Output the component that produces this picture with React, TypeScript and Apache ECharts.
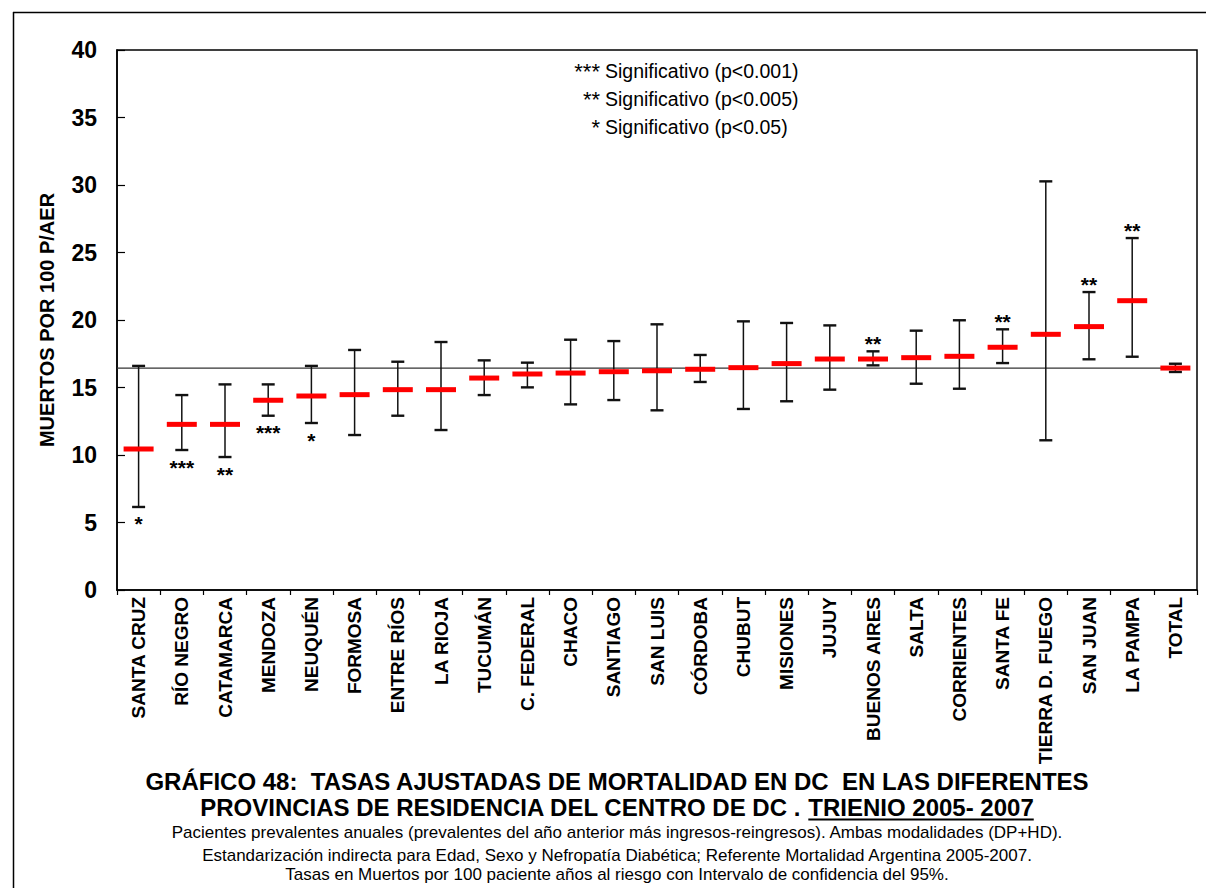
import React, { useEffect, useRef } from "react";
import * as echarts from "echarts";

const categories = [
  "SANTA CRUZ", "RÍO NEGRO", "CATAMARCA", "MENDOZA", "NEUQUÉN", "FORMOSA",
  "ENTRE RÍOS", "LA RIOJA", "TUCUMÁN", "C. FEDERAL", "CHACO", "SANTIAGO",
  "SAN LUIS", "CÓRDOBA", "CHUBUT", "MISIONES", "JUJUY", "BUENOS AIRES",
  "SALTA", "CORRIENTES", "SANTA FE", "TIERRA D. FUEGO", "SAN JUAN", "LA PAMPA", "TOTAL",
];
const rates = [
  10.44, 12.27, 12.27, 14.05, 14.37, 14.47, 14.84, 14.84, 15.7, 16.0, 16.07, 16.17,
  16.24, 16.35, 16.47, 16.77, 17.11, 17.11, 17.21, 17.31, 17.98, 18.94, 19.51, 21.43, 16.44,
];
const lower = [
  6.15, 10.37, 9.85, 12.91, 12.37, 11.48, 12.91, 11.85, 14.44, 15.01, 13.75, 14.07,
  13.31, 15.41, 13.41, 13.98, 14.84, 16.64, 15.28, 14.91, 16.81, 11.09, 17.09, 17.28, 16.15,
];
const upper = [
  16.6, 14.44, 15.23, 15.23, 16.6, 17.78, 16.91, 18.37, 17.01, 16.84, 18.54, 18.44,
  19.68, 17.41, 19.9, 19.78, 19.6, 17.68, 19.21, 19.98, 19.31, 30.27, 22.07, 26.07, 16.76,
];
const significance = [
  "*", "***", "**", "***", "*", "", "", "", "", "", "", "",
  "", "", "", "", "", "**", "", "", "**", "", "**", "**", "",
];
const referenceRate = 16.44;
const yTicks = { min: 0, max: 40, interval: 5 };

const legendStars = ["***", "**", "*"];
const legendTexts = ["Significativo (p<0.001)", "Significativo (p<0.005)", "Significativo (p<0.05)"];

const titleLine1 = "GRÁFICO 48:  TASAS AJUSTADAS DE MORTALIDAD EN DC  EN LAS DIFERENTES";
const titleLine2a = "PROVINCIAS DE RESIDENCIA DEL CENTRO DE DC . ";
const titleLine2b = "TRIENIO 2005- 2007";
const subtitleLines = [
  "Pacientes prevalentes anuales (prevalentes del año anterior más ingresos-reingresos). Ambas modalidades (DP+HD).",
  "Estandarización indirecta para Edad, Sexo y Nefropatía Diabética; Referente Mortalidad Argentina 2005-2007.",
  "Tasas en Muertos por 100 paciente años al riesgo con Intervalo de confidencia del 95%.",
];

const FONT = "'Liberation Sans', Arial, Helvetica, sans-serif";

function measure(text: string, font: string): number {
  const c = document.createElement("canvas");
  const ctx = c.getContext("2d");
  if (!ctx) return text.length * 12;
  ctx.font = font;
  return ctx.measureText(text).width;
}

export default function App() {
  const ref = useRef<HTMLDivElement>(null);

  useEffect(() => {
    if (!ref.current) return;
    const chart = echarts.init(ref.current, undefined, { renderer: "svg" });

    const titleFont = `bold 24px ${FONT}`;
    const w2a = measure(titleLine2a, titleFont);
    const w2b = measure(titleLine2b, titleFont);
    const centerX = 617;
    const x2 = centerX - (w2a + w2b) / 2;

    const errData = categories.map((c, i) => [i, lower[i], upper[i], rates[i]]);

    const option: any = {
      animation: false,
      backgroundColor: "#ffffff",
      grid: {
        left: 117,
        top: 50,
        right: 9,
        bottom: 298,
        show: true,
        borderColor: "#000",
        borderWidth: 1.5,
        backgroundColor: "transparent",
      },
      xAxis: [
        {
          type: "category",
          data: categories,
          boundaryGap: true,
          axisLine: { lineStyle: { color: "#000", width: 1.5 } },
          axisTick: { show: true, interval: 0, length: 5, lineStyle: { color: "#000", width: 1.2 } },
          axisLabel: {
            interval: 0,
            rotate: 90,
            margin: 7,
            color: "#000",
            fontFamily: FONT,
            fontWeight: "bold",
            fontSize: 19,
          },
          splitLine: { show: false },
        },
        {
          type: "value",
          min: 0,
          max: categories.length,
          show: false,
        },
      ],
      yAxis: {
        type: "value",
        min: yTicks.min,
        max: yTicks.max,
        interval: yTicks.interval,
        name: "MUERTOS POR 100 P/AER",
        nameLocation: "middle",
        nameRotate: 90,
        nameGap: 60,
        nameTextStyle: { color: "#000", fontFamily: FONT, fontWeight: "bold", fontSize: 20 },
        axisLine: { show: true, lineStyle: { color: "#000", width: 1.5 } },
        axisTick: { show: true, inside: true, length: 8, lineStyle: { color: "#000", width: 1.2 } },
        axisLabel: { color: "#000", fontFamily: FONT, fontWeight: "bold", fontSize: 23, margin: 20 },
        splitLine: { show: false },
      },
      series: [
        {
          type: "line",
          xAxisIndex: 1,
          data: [
            [0, referenceRate],
            [categories.length - 0.5, referenceRate],
          ],
          symbol: "none",
          lineStyle: { color: "#333", width: 1.2 },
          z: 1,
          silent: true,
        },
        {
          type: "custom",
          xAxisIndex: 0,
          data: errData,
          encode: { x: 0, y: [1, 2, 3] },
          z: 3,
          renderItem: (params: any, api: any) => {
            const i = api.value(0);
            const lo = api.value(1);
            const hi = api.value(2);
            const mid = api.value(3);
            const pLo = api.coord([i, lo]);
            const pHi = api.coord([i, hi]);
            const pMid = api.coord([i, mid]);
            const capHalf = 6.5;
            const barHalf = 15;
            const stroke = { stroke: "#111", lineWidth: 1.5 };
            const capStroke = { stroke: "#111", lineWidth: 2.4 };
            const children: any[] = [
              { type: "line", shape: { x1: pHi[0], y1: pHi[1], x2: pLo[0], y2: pLo[1] }, style: stroke },
              { type: "line", shape: { x1: pHi[0] - capHalf, y1: pHi[1], x2: pHi[0] + capHalf, y2: pHi[1] }, style: capStroke },
              { type: "line", shape: { x1: pLo[0] - capHalf, y1: pLo[1], x2: pLo[0] + capHalf, y2: pLo[1] }, style: capStroke },
              { type: "rect", shape: { x: pMid[0] - barHalf, y: pMid[1] - 2.5, width: barHalf * 2, height: 5 }, style: { fill: "#ff0000" } },
            ];
            const s = significance[params.dataIndex];
            if (s) {
              const below = mid < referenceRate;
              const ty = below ? pLo[1] + 17 : pHi[1] - 8;
              children.push({
                type: "text",
                x: pMid[0],
                y: ty,
                style: {
                  text: s,
                  fill: "#000",
                  font: `bold 21px ${FONT}`,
                  align: "center",
                  verticalAlign: "middle",
                  textAlign: "center",
                  textVerticalAlign: "middle",
                },
              });
            }
            return { type: "group", children };
          },
        },
      ],
      graphic: [
        {
          type: "line",
          shape: { x1: 13, y1: 12.5, x2: 1206, y2: 12.5 },
          style: { stroke: "#000", lineWidth: 1.5 },
          silent: true,
        },
        {
          type: "line",
          shape: { x1: 13.5, y1: 12, x2: 13.5, y2: 888 },
          style: { stroke: "#000", lineWidth: 1.5 },
          silent: true,
        },
        ...legendStars.map((s, k) => ({
          type: "text",
          x: 600,
          y: 71 + k * 28,
          style: {
            text: s,
            fill: "#000",
            font: `22px ${FONT}`,
            align: "right",
            verticalAlign: "middle",
            textAlign: "right",
            textVerticalAlign: "middle",
          },
        })),
        ...legendTexts.map((t, k) => ({
          type: "text",
          x: 605,
          y: 71 + k * 28,
          style: {
            text: t,
            fill: "#000",
            font: `19.5px ${FONT}`,
            align: "left",
            verticalAlign: "middle",
            textAlign: "left",
            textVerticalAlign: "middle",
          },
        })),
        {
          type: "text",
          x: centerX,
          y: 781,
          style: {
            text: titleLine1,
            fill: "#000",
            font: titleFont,
            align: "center",
            verticalAlign: "middle",
            textAlign: "center",
            textVerticalAlign: "middle",
          },
        },
        {
          type: "text",
          x: x2,
          y: 807,
          style: {
            text: titleLine2a,
            fill: "#000",
            font: titleFont,
            align: "left",
            verticalAlign: "middle",
            textAlign: "left",
            textVerticalAlign: "middle",
          },
        },
        {
          type: "text",
          x: x2 + w2a,
          y: 807,
          style: {
            text: titleLine2b,
            fill: "#000",
            font: titleFont,
            align: "left",
            verticalAlign: "middle",
            textAlign: "left",
            textVerticalAlign: "middle",
          },
        },
        {
          type: "line",
          shape: { x1: x2 + w2a, y1: 819.5, x2: x2 + w2a + w2b, y2: 819.5 },
          style: { stroke: "#000", lineWidth: 2 },
        },
        ...subtitleLines.map((t, k) => ({
          type: "text",
          x: centerX,
          y: [832, 855, 874][k],
          style: {
            text: t,
            fill: "#000",
            font: `17px ${FONT}`,
            align: "center",
            verticalAlign: "middle",
            textAlign: "center",
            textVerticalAlign: "middle",
          },
        })),
      ],
    };

    chart.setOption(option);
    return () => chart.dispose();
  }, []);

  return (
    <div
      ref={ref}
      style={{ position: "fixed", left: 0, top: 0, width: 1206, height: 888, background: "#fff" }}
    />
  );
}
